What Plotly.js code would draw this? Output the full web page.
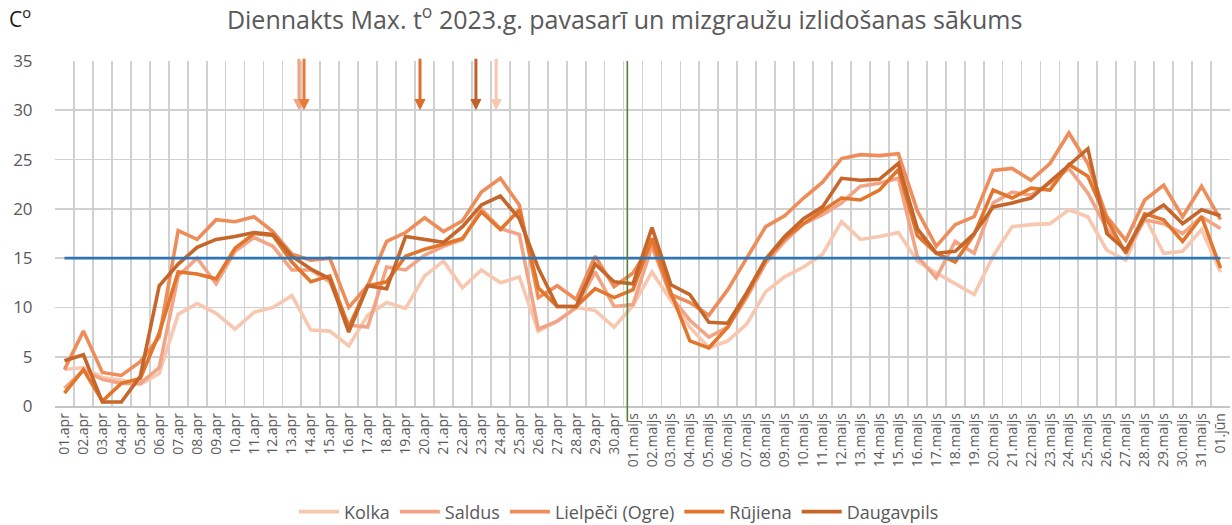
<!DOCTYPE html>
<html>
<head>
<meta charset="utf-8">
<script src="https://cdn.plot.ly/plotly-3.0.1.min.js"></script>
<style>
  html, body { margin: 0; padding: 0; background: #ffffff; }
  #chart { width: 1232px; height: 525px; }
</style>
</head>
<body>
<div id="chart"></div>
<script>
const categories = [
  "01.apr","02.apr","03.apr","04.apr","05.apr","06.apr","07.apr","08.apr","09.apr","10.apr",
  "11.apr","12.apr","13.apr","14.apr","15.apr","16.apr","17.apr","18.apr","19.apr","20.apr",
  "21.apr","22.apr","23.apr","24.apr","25.apr","26.apr","27.apr","28.apr","29.apr","30.apr",
  "01.maijs","02.maijs","03.maijs","04.maijs","05.maijs","06.maijs","07.maijs","08.maijs","09.maijs","10.maijs",
  "11.maijs","12.maijs","13.maijs","14.maijs","15.maijs","16.maijs","17.maijs","18.maijs","19.maijs","20.maijs",
  "21.maijs","22.maijs","23.maijs","24.maijs","25.maijs","26.maijs","27.maijs","28.maijs","29.maijs","30.maijs",
  "31.maijs","01.jūn"
];

const kolka = [3.7,3.9,2.9,2.6,2.2,3.3,9.3,10.4,9.4,7.8,
  9.5,10.0,11.2,7.7,7.6,6.1,9.2,10.5,9.9,13.2,
  14.7,12.0,13.8,12.5,13.1,7.6,8.6,10.0,9.7,8.0,
  10.2,13.6,10.7,8.0,5.9,6.6,8.3,11.6,13.1,14.1,
  15.4,18.7,16.9,17.2,17.6,14.7,13.5,12.4,11.3,15.2,
  18.2,18.4,18.5,19.9,19.2,15.8,14.8,19.2,15.5,15.7,
  17.9,13.6];

const saldus = [1.8,3.6,2.7,2.3,2.3,3.9,13.2,15.0,12.4,15.7,
  17.1,16.2,13.8,13.8,12.6,8.2,8.0,14.1,13.8,15.3,
  16.2,16.9,20.0,18.0,17.4,7.8,8.6,10.0,13.6,10.1,
  10.3,16.2,11.1,8.7,7.0,8.0,11.0,14.5,16.7,18.5,
  19.4,20.6,22.3,22.6,23.1,15.2,13.0,16.7,15.5,20.6,
  21.7,21.4,22.6,24.1,21.6,18.0,15.6,18.9,18.5,17.5,
  19.2,18.0];

const lielpeci = [3.7,7.6,3.4,3.1,4.5,7.0,17.8,16.9,18.9,18.7,
  19.2,17.7,15.4,14.8,15.0,10.0,12.2,16.7,17.6,19.1,
  17.7,18.8,21.7,23.1,20.4,11.0,12.2,10.8,15.2,12.1,
  13.5,16.5,11.3,10.5,9.2,11.8,15.0,18.2,19.3,21.1,
  22.7,25.1,25.5,25.4,25.6,19.8,16.2,18.4,19.2,23.9,
  24.1,22.9,24.6,27.7,24.6,19.2,16.8,20.9,22.4,19.2,
  22.3,18.9];

const rujiena = [1.3,3.7,0.5,2.3,2.8,7.4,13.6,13.4,12.9,16.0,
  17.5,17.3,14.6,12.6,13.2,8.0,12.2,12.6,15.2,15.9,
  16.4,17.0,19.7,17.9,19.9,12.0,10.1,10.1,11.9,11.0,
  11.8,17.0,11.5,6.6,5.9,8.0,11.3,14.8,17.0,18.5,
  19.8,21.1,20.9,21.9,24.0,17.3,15.5,14.6,17.4,21.9,
  21.1,22.1,21.9,24.5,23.3,18.9,15.5,19.5,18.9,16.7,
  19.2,14.0];

const daugavpils = [4.6,5.2,0.4,0.4,3.0,12.2,14.4,16.1,16.9,17.2,
  17.6,17.4,15.2,13.9,12.9,7.5,12.2,11.9,17.2,16.9,
  16.6,18.2,20.4,21.3,19.0,14.0,10.1,10.1,14.4,12.6,
  12.4,18.1,12.3,11.3,8.5,8.4,11.5,14.9,17.2,19.0,
  20.2,23.1,22.9,23.0,24.6,18.0,15.5,15.7,17.5,20.2,
  20.6,21.1,22.8,24.5,26.1,17.5,15.8,19.2,20.4,18.5,
  19.9,19.3];

const seriesNames = ["Kolka", "Saldus", "Lielpēči (Ogre)", "Rūjiena", "Daugavpils"];
const seriesValues = [kolka, saldus, lielpeci, rujiena, daugavpils];
const seriesColors = ["#F7C7B0", "#F2A586", "#EE8C5A", "#E2762C", "#C6662A"];

const threshold = 15;
const yTicks = [0, 5, 10, 15, 20, 25, 30, 35];

const traces = seriesValues.map((vals, i) => ({
  type: "scatter",
  mode: "lines",
  name: seriesNames[i],
  x: categories,
  y: vals,
  line: { color: seriesColors[i], width: 3.6 },
  hoverinfo: "x+y+name"
}));

function arrow(xIdx, color) {
  return {
    x: xIdx, y: 30, xref: "x", yref: "y",
    ax: 0, ay: -53, axref: "pixel", ayref: "pixel",
    text: "", showarrow: true,
    arrowhead: 2, arrowsize: 0.75, arrowwidth: 3, arrowcolor: color
  };
}

const layout = {
  width: 1232, height: 525,
  margin: { l: 55, r: 2, t: 61, b: 119, autoexpand: false },
  paper_bgcolor: "#ffffff",
  plot_bgcolor: "#ffffff",
  font: { family: "Open Sans, sans-serif", color: "#595959" },
  title: {
    text: "Diennakts Max. t<sup>o</sup> 2023.g. pavasarī un mizgraužu izlidošanas sākums",
    font: { size: 25, color: "#595959", family: "Open Sans, sans-serif" },
    x: 0.507, xref: "container", xanchor: "center",
    y: 0.962, yref: "container", yanchor: "middle"
  },
  xaxis: {
    type: "category",
    tickson: "boundaries",
    showgrid: true,
    gridcolor: "#D0D0D0",
    gridwidth: 1.8,
    showline: true,
    linecolor: "#C4C4C4",
    linewidth: 1.5,
    ticks: "",
    tickangle: -90,
    tickfont: { size: 14, color: "#595959" },
    range: [-0.5, 61.5],
    automargin: false,
    fixedrange: true
  },
  yaxis: {
    range: [0, 35],
    tickvals: yTicks,
    showgrid: true,
    gridcolor: "#D0D0D0",
    gridwidth: 1.8,
    zeroline: true,
    zerolinecolor: "#C4C4C4",
    zerolinewidth: 1.5,
    ticks: "outside",
    ticklen: 18,
    tickcolor: "rgba(0,0,0,0)",
    tickfont: { size: 17, color: "#595959" },
    automargin: false,
    fixedrange: true
  },
  legend: {
    orientation: "h",
    x: 0.48, xanchor: "center",
    y: -0.307, yanchor: "middle",
    font: { size: 18, color: "#595959" },
    itemwidth: 40
  },
  showlegend: true,
  shapes: [
    {
      type: "line", xref: "x", yref: "y",
      x0: 0, x1: categories.length - 1, y0: threshold, y1: threshold,
      line: { color: "#2E75B6", width: 2.6 }, layer: "above"
    },
    {
      type: "line", xref: "x", yref: "paper",
      x0: 29.7, x1: 29.7, y0: -0.046, y1: 1,
      line: { color: "#548235", width: 1.6 }, layer: "above"
    }
  ],
  annotations: [
    {
      text: "C<sup>o</sup>", showarrow: false,
      xref: "paper", yref: "paper", x: -0.03, y: 1.125,
      xanchor: "center", yanchor: "middle",
      font: { size: 21, color: "#1a1a1a" }
    },
    arrow(12.37, "#F2A586"),
    arrow(12.64, "#EA7A34"),
    arrow(18.76, "#DA6E2A"),
    arrow(21.71, "#C0602A"),
    arrow(22.78, "#F7C7B0")
  ]
};

Plotly.newPlot("chart", traces, layout, { displayModeBar: false, staticPlot: true });
</script>
</body>
</html>
